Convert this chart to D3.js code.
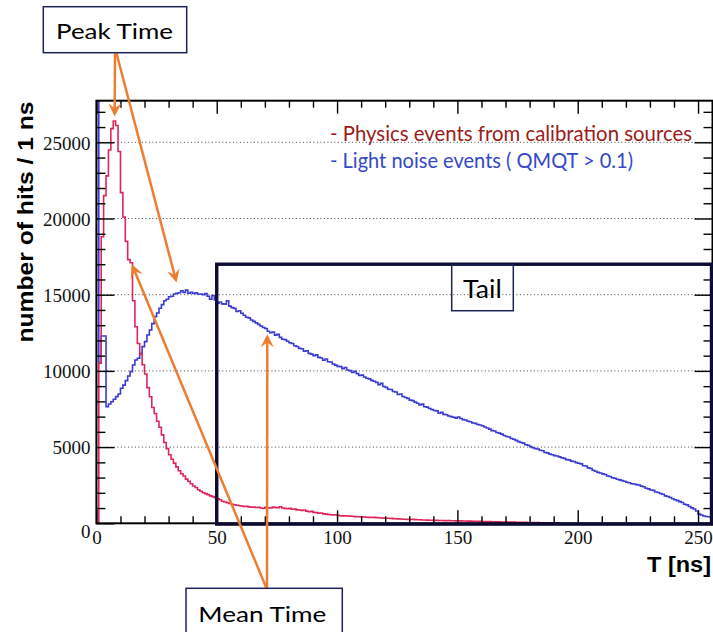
<!DOCTYPE html>
<html><head><meta charset="utf-8">
<script src="https://cdn.jsdelivr.net/npm/d3@7"></script>
<style>html,body{margin:0;padding:0;background:#fff;} svg{display:block;}</style>
</head><body>
<svg id="c" width="713" height="632"></svg>
<script>
// ---------- data (1 ns bins, starting at T = 0) ----------
const binWidth = 1;
const physicsHits = [
  0, 10500, 18800, 21500, 22800, 24500, 25900, 26400, 26100, 24400, 21700, 20100, 18500, 17300, 17100, 14600,
  12900, 11800, 11100, 10400, 9800, 8900, 8300, 7600, 7200, 6700, 6300, 5800, 5300, 4900, 4500, 4200,
  3950, 3700, 3450, 3250, 3100, 2900, 2750, 2600, 2450, 2350, 2200, 2100, 2000, 1950, 1880, 1800,
  1750, 1680, 1600, 1550, 1450, 1400, 1350, 1300, 1250, 1220, 1180, 1150, 1140, 1100, 1120, 1080,
  1050, 1060, 1040, 1050, 1000, 980, 1050, 1020, 1000, 1060, 1030, 1020, 1090, 1000, 980, 950,
  980, 920, 930, 880, 870, 850, 870, 800, 760, 780, 720, 700, 660, 680, 620, 600,
  580, 560, 545, 550, 520, 500, 490, 500, 480, 470, 460, 440, 430, 430, 420, 410,
  400, 390, 380, 390, 370, 360, 350, 340, 330, 335, 320, 310, 300, 290, 280, 270,
  265, 260, 250, 255, 240, 230, 235, 220, 220, 210, 205, 200, 195, 190, 185, 180,
  175, 170, 180, 170, 165, 160, 165, 160, 150, 150, 145, 140, 135, 130, 130, 125,
  120, 115, 110, 110, 105, 100, 100, 95, 90, 90, 85, 80, 80, 75, 70, 70,
  65, 60, 60, 55, 50, 50, 45, 45, 40, 40, 35, 35, 30, 30, 25, 25
];
const noiseHits = [
  30000, 10500, 12290, 12290, 7650, 7830, 7980, 8140, 8310, 8480, 8860, 9070, 9360, 9670, 9950, 10390,
  10720, 10830, 11150, 11590, 11920, 12360, 12680, 13100, 13560, 13800, 14110, 14350, 14600, 14700, 14870, 14900,
  15050, 15100, 15130, 15260, 15150, 15300, 15100, 15150, 15080, 15120, 15030, 15050, 15000, 15080, 14900, 14700,
  14950, 14650, 14450, 14520, 14400, 14380, 14600, 14250, 14150, 14100, 13900, 13950, 13780, 13650, 13520, 13480,
  13340, 13250, 13150, 13050, 12950, 12850, 12780, 12600, 12500, 12550, 12350, 12400, 12200, 12080, 12050, 11950,
  11850, 11800, 11650, 11600, 11480, 11450, 11300, 11320, 11150, 11100, 11000, 11050, 10890, 10850, 10700, 10780,
  10600, 10580, 10450, 10380, 10300, 10280, 10150, 10220, 10060, 10020, 9900, 9970, 9820, 9700, 9720, 9600,
  9520, 9480, 9380, 9320, 9250, 9100, 9180, 8980, 8920, 8800, 8780, 8650, 8620, 8450, 8480, 8320,
  8250, 8200, 8080, 8050, 7950, 7880, 7760, 7820, 7650, 7620, 7530, 7470, 7400, 7380, 7220, 7280,
  7150, 7120, 7040, 7000, 6960, 6900, 6980, 6880, 6800, 6780, 6700, 6660, 6580, 6560, 6480, 6450,
  6400, 6320, 6250, 6180, 6080, 6060, 5960, 5920, 5850, 5760, 5700, 5660, 5560, 5520, 5440, 5360,
  5300, 5260, 5150, 5120, 5030, 4960, 4900, 4880, 4790, 4760, 4650, 4620, 4540, 4500, 4440, 4420,
  4360, 4300, 4260, 4180, 4160, 4080, 4060, 3980, 3940, 3900, 3780, 3760, 3640, 3600, 3480, 3420,
  3340, 3300, 3240, 3200, 3100, 3070, 2990, 2960, 2890, 2850, 2800, 2760, 2690, 2660, 2600, 2580,
  2540, 2510, 2440, 2400, 2300, 2260, 2190, 2160, 2050, 2020, 1960, 1910, 1800, 1760, 1690, 1610,
  1550, 1490, 1420, 1360, 1250, 1210, 1100, 1010, 940, 810, 600, 540, 480, 450, 430, 420
];
const xTickValues = [0, 50, 100, 150, 200, 250];
const yTickValues = [0, 5000, 10000, 15000, 20000, 25000];
const xDomain = [0, 256];
const yDomain = [0, 27730];
const legendLabels = ["- Physics events from calibration sources", "- Light noise events ( QMQT > 0.1)"];
const xTitle = "T [ns]";
const yTitle = "number of hits / 1 ns";
const peakLabel = "Peak Time";
const meanLabel = "Mean Time";
const tailLabel = "Tail";
// annotation anchor points in data coordinates [T, hits]
const tailRegion = [[50, 17000], [256, 0]];
const peakTips = [[7.6, 26700], [33.3, 15800]];
const meanTips = [[71.0, 12400], [14.7, 17000]];

// ---------- layout ----------
const svg = d3.select("#c");
const L = 96.4, R = 712.5, T = 100.7, B = 523.3;
const x = d3.scaleLinear().domain(xDomain).range([L, R]);
const y = d3.scaleLinear().domain(yDomain).range([B, T]);
const RED = "#e0255a", BLUE = "#3b3bd2", ORANGE = "#ED7D31", NAVY = "#1c2556";
const annFont = "Lato, 'Open Sans', sans-serif";
const serif = "'Liberation Serif', 'DejaVu Serif', 'Times New Roman', serif";

svg.append("rect").attr("width", 713).attr("height", 632).attr("fill", "#fff");

svg.append("defs").append("clipPath").attr("id", "plotclip")
  .append("rect").attr("x", L).attr("y", T).attr("width", R - L).attr("height", B - T);

// gridlines
svg.append("g").selectAll("line").data(yTickValues.filter(v => v > 0)).join("line")
  .attr("x1", L).attr("x2", R).attr("y1", d => y(d)).attr("y2", d => y(d))
  .attr("stroke", "#444").attr("stroke-width", 1).attr("stroke-dasharray", "1,2.5");

// histograms
function stepPoints(vals) {
  const pts = [[0, 0]];
  vals.forEach((v, i) => pts.push([i * binWidth, v]));
  pts.push([vals.length * binWidth, vals[vals.length - 1]]);
  pts.push([vals.length * binWidth, 0]);
  return pts;
}
const stepLine = d3.line().x(d => x(d[0])).y(d => y(d[1])).curve(d3.curveStepAfter);
const hg = svg.append("g").attr("clip-path", "url(#plotclip)");
hg.append("path").attr("d", stepLine(stepPoints(noiseHits)))
  .attr("fill", "none").attr("stroke", BLUE).attr("stroke-width", 1.6);
hg.append("path").attr("d", stepLine(stepPoints(physicsHits)))
  .attr("fill", "none").attr("stroke", RED).attr("stroke-width", 1.6);

// axes (ticks inside, ROOT style)
const xMinor = d3.range(0, 257, 10).filter(v => !xTickValues.includes(v));
const yMinor = d3.range(0, 27001, 1000).filter(v => !yTickValues.includes(v));
function styleAxis(g) { g.select(".domain").remove(); g.selectAll("line").attr("stroke", "#000").attr("stroke-width", 1.4); }

const gB = svg.append("g").attr("transform", `translate(0,${B})`).attr("font-family", serif)
  .call(d3.axisBottom(x).tickValues(xTickValues).tickSizeInner(-13).tickSizeOuter(0).tickPadding(7.5).tickFormat(d3.format("d")));
gB.attr("font-family", serif);
styleAxis(gB);
gB.selectAll("text").style("font-family", serif).attr("font-size", 19).attr("fill", "#111");
svg.append("g").attr("transform", `translate(0,${B})`)
  .call(d3.axisBottom(x).tickValues(xMinor).tickSizeInner(-7).tickSizeOuter(0).tickFormat("")).call(styleAxis);
svg.append("g").attr("transform", `translate(0,${T})`)
  .call(d3.axisTop(x).tickValues(xTickValues).tickSizeInner(-13).tickSizeOuter(0).tickFormat("")).call(styleAxis);
svg.append("g").attr("transform", `translate(0,${T})`)
  .call(d3.axisTop(x).tickValues(xMinor).tickSizeInner(-7).tickSizeOuter(0).tickFormat("")).call(styleAxis);

const gL = svg.append("g").attr("transform", `translate(${L},0)`)
  .call(d3.axisLeft(y).tickValues(yTickValues).tickSizeInner(-18).tickSizeOuter(0).tickPadding(6).tickFormat(d3.format("d")));
gL.attr("font-family", serif);
styleAxis(gL);
gL.selectAll("text").style("font-family", serif).attr("font-size", 19).attr("fill", "#111")
  .attr("dy", d => d === 0 ? "0.75em" : "0.36em");
svg.append("g").attr("transform", `translate(${L},0)`)
  .call(d3.axisLeft(y).tickValues(yMinor).tickSizeInner(-9).tickSizeOuter(0).tickFormat("")).call(styleAxis);
svg.append("g").attr("transform", `translate(${R},0)`)
  .call(d3.axisRight(y).tickValues(yTickValues).tickSizeInner(-18).tickSizeOuter(0).tickFormat("")).call(styleAxis);
svg.append("g").attr("transform", `translate(${R},0)`)
  .call(d3.axisRight(y).tickValues(yMinor).tickSizeInner(-9).tickSizeOuter(0).tickFormat("")).call(styleAxis);

// frame
svg.append("rect").attr("x", L).attr("y", T).attr("width", R - L).attr("height", B - T)
  .attr("fill", "none").attr("stroke", "#000").attr("stroke-width", 2);

// axis titles
svg.append("text").attr("transform", `translate(33,222) rotate(-90)`)
  .attr("text-anchor", "middle").attr("font-family", "'Liberation Sans', Arial, sans-serif")
  .attr("font-weight", "bold").attr("font-size", 22).attr("textLength", 241).attr("lengthAdjust", "spacingAndGlyphs")
  .attr("fill", "#000").text(yTitle);
svg.append("text").attr("x", 647).attr("y", 572)
  .attr("font-family", "'Liberation Sans', Arial, sans-serif")
  .attr("font-weight", "bold").attr("font-size", 22).attr("textLength", 64).attr("lengthAdjust", "spacingAndGlyphs")
  .attr("fill", "#000").text(xTitle);

// legend text
svg.append("text").attr("x", 330).attr("y", 141).attr("font-family", annFont).attr("font-size", 20.5)
  .attr("textLength", 362).attr("lengthAdjust", "spacingAndGlyphs").attr("fill", "#9a1b1b").text(legendLabels[0]);
svg.append("text").attr("x", 330).attr("y", 168).attr("font-family", annFont).attr("font-size", 20.5)
  .attr("textLength", 303).attr("lengthAdjust", "spacingAndGlyphs").attr("fill", "#3548c8").text(legendLabels[1]);

// tail region box
const tx1 = x(tailRegion[0][0]), ty1 = y(tailRegion[0][1]), tx2 = x(tailRegion[1][0]) - 1, ty2 = y(tailRegion[1][1]) + 0.8;
svg.append("rect").attr("x", tx1).attr("y", ty1).attr("width", tx2 - tx1).attr("height", ty2 - ty1)
  .attr("fill", "none").attr("stroke", "#0b0b33").attr("stroke-width", 3.4);
svg.append("rect").attr("x", 451.7).attr("y", ty1 + 0.8).attr("width", 61.6).attr("height", 45.7)
  .attr("fill", "none").attr("stroke", NAVY).attr("stroke-width", 1.5);
svg.append("text").attr("x", 463).attr("y", 298.3).attr("font-family", annFont).attr("font-size", 25)
  .attr("textLength", 38.7).attr("lengthAdjust", "spacingAndGlyphs").attr("fill", "#000").text(tailLabel);

// arrows
function arrow(x1, y1, x2, y2) {
  const dx = x2 - x1, dy = y2 - y1, len = Math.hypot(dx, dy);
  const ux = dx / len, uy = dy / len, px = -uy, py = ux;
  const h = 13, w = 6.5;
  svg.append("line").attr("x1", x1).attr("y1", y1).attr("x2", x2 - ux * h * 0.6).attr("y2", y2 - uy * h * 0.6)
    .attr("stroke", ORANGE).attr("stroke-width", 2.5);
  const pts = [[x2, y2], [x2 - ux * h + px * w, y2 - uy * h + py * w], [x2 - ux * h * 0.62, y2 - uy * h * 0.62],
               [x2 - ux * h - px * w, y2 - uy * h - py * w]];
  svg.append("polygon").attr("points", pts.map(p => p.join(",")).join(" ")).attr("fill", ORANGE);
}
arrow(115, 53.3, x(peakTips[0][0]), y(peakTips[0][1]));
arrow(116.5, 53.3, x(peakTips[1][0]), y(peakTips[1][1]));
arrow(267, 588.3, x(meanTips[0][0]), y(meanTips[0][1]));
arrow(266.5, 588.3, x(meanTips[1][0]), y(meanTips[1][1]));

// annotation boxes
svg.append("rect").attr("x", 43.3).attr("y", 6.7).attr("width", 143.4).attr("height", 46)
  .attr("fill", "#fff").attr("stroke", NAVY).attr("stroke-width", 1.5);
svg.append("text").attr("x", 56).attr("y", 39.3).attr("font-family", annFont).attr("font-size", 22)
  .attr("textLength", 117).attr("lengthAdjust", "spacingAndGlyphs").attr("fill", "#000").text(peakLabel);
svg.append("rect").attr("x", 186).attr("y", 588.3).attr("width", 156.3).attr("height", 60)
  .attr("fill", "#fff").attr("stroke", NAVY).attr("stroke-width", 1.5);
svg.append("text").attr("x", 198.3).attr("y", 621.7).attr("font-family", annFont).attr("font-size", 22)
  .attr("textLength", 128).attr("lengthAdjust", "spacingAndGlyphs").attr("fill", "#000").text(meanLabel);
</script>
</body></html>
